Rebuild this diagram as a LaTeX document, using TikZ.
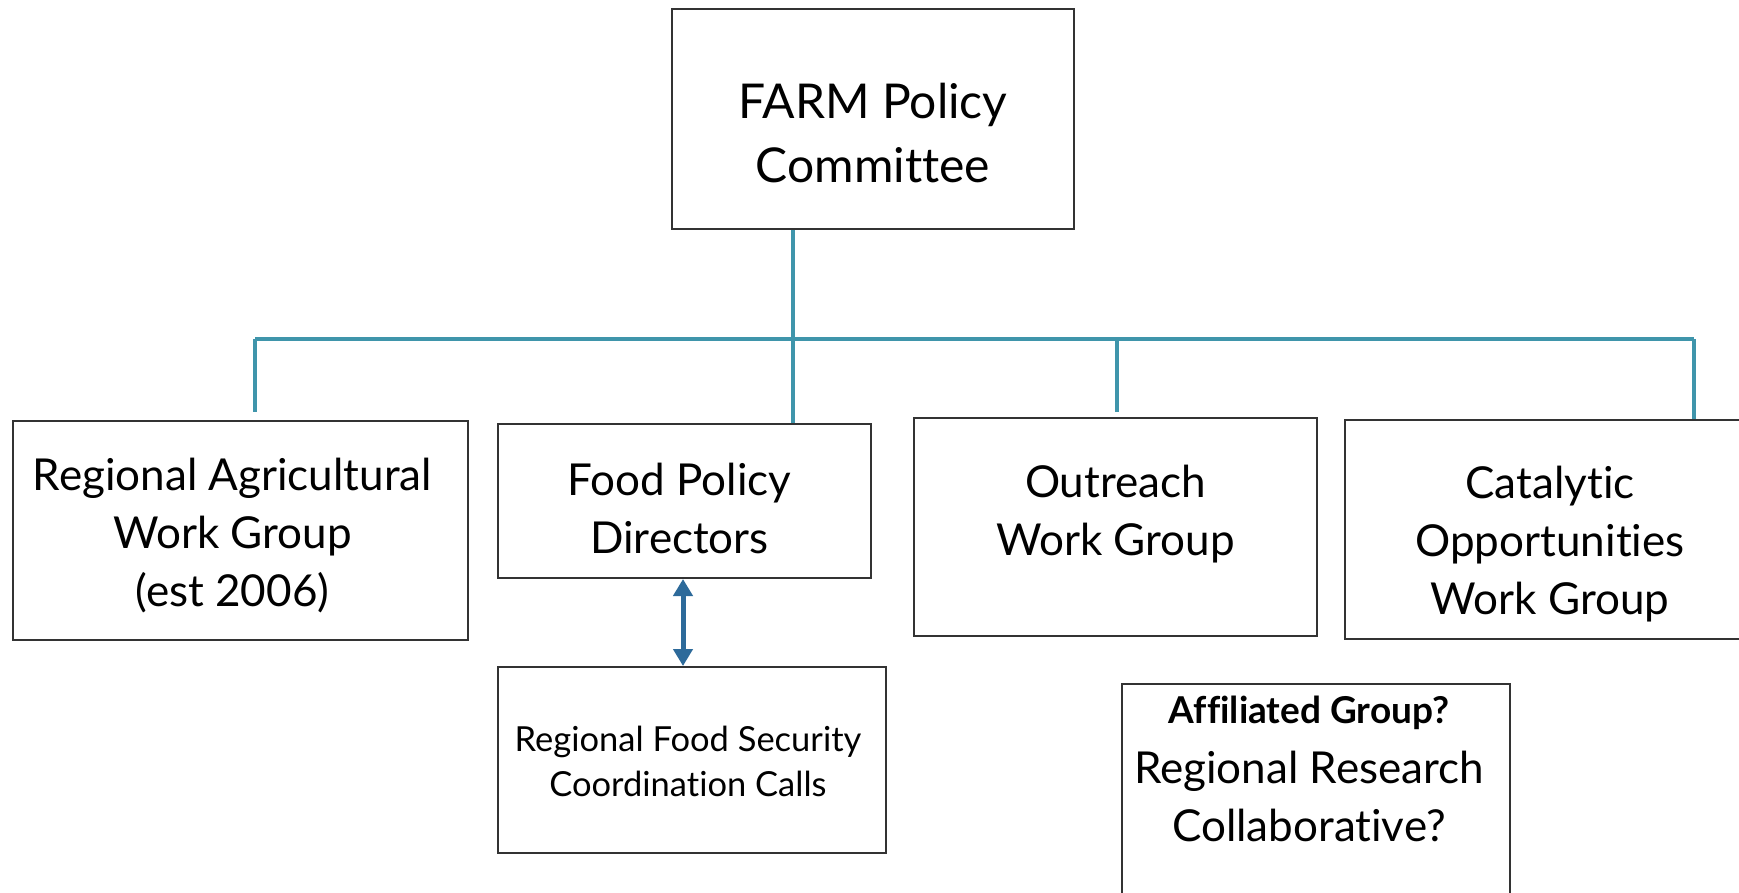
\documentclass[tikz,border=0pt]{standalone}
\usepackage{fontspec}
\setmainfont{Lato}[Ligatures={NoCommon,NoRare,NoContextual}]
\usetikzlibrary{arrows.meta}
\definecolor{teal1}{HTML}{3F95AB}
\definecolor{arrowblue}{HTML}{2D6A9A}
\definecolor{boxline}{HTML}{333333}
\begin{document}
\begin{tikzpicture}[x=1pt,y=-1pt,
  box/.style={draw=boxline,line width=2pt,fill=white,inner sep=0pt,anchor=north west},
  txt/.style={align=center,inner sep=0pt},
  mainfont/.style={font=\fontsize{44}{58}\selectfont},
  conn/.style={draw=teal1,line width=3.5pt},
]
\useasboundingbox (0,0) rectangle (1739,892);
\clip (0,0) rectangle (1739,892);
\fill[white] (0,0) rectangle (1739,892);

% boxes
\node[box,minimum width=402pt,minimum height=220pt] (farm) at (671,8) {};
\node[box,minimum width=455pt,minimum height=219pt] (rawg) at (12,420) {};
\node[box,minimum width=373pt,minimum height=154pt] (fpd) at (497,423) {};
\node[box,minimum width=403pt,minimum height=218pt] (owg) at (913,417) {};
\node[box,minimum width=404pt,minimum height=219pt] (cowg) at (1344,419) {};
\node[box,minimum width=388pt,minimum height=186pt] (rfscc) at (497,666) {};
\node[box,minimum width=388pt,minimum height=280pt] (aff) at (1121,683) {};

% texts
\node[txt,font=\fontsize{48}{64}\selectfont] (farmt) at ([yshift=-14pt]farm.center)
  {FARM Policy\\Committee};
\node[txt,mainfont] (rawgt) at ([xshift=-8pt,yshift=-5pt]rawg.center)
  {Regional Agricultural\\Work Group\\(est 2006)};
\node[txt,mainfont] (fpdt) at ([xshift=-5pt,yshift=-7pt]fpd.center)
  {Food Policy\\Directors};
\node[txt,mainfont] (owgt) at ([yshift=13pt]owg.center)
  {Outreach\\Work Group};
\node[txt,mainfont] (cowgt) at ([xshift=3pt,yshift=-15pt]cowg.center)
  {Catalytic\\Opportunities\\Work Group};
\node[txt,font=\fontsize{34.5}{45}\selectfont] (rfsccT) at ([xshift=-4pt,yshift=-1pt]rfscc.center)
  {Regional Food Security\\Coordination Calls};
\node[txt,anchor=north,mainfont] (afft) at ([xshift=-7pt,yshift=-13pt]aff.north)
  {{\bfseries\fontsize{37}{40}\selectfont Affiliated Group?}\\[2pt]Regional Research\\Collaborative?};

% connectors
\coordinate (bus) at (793,339);
\coordinate (rawgend) at (255,412);
\coordinate (owgend) at (1117,412);
\draw[conn] (farm.south -| bus) -- (fpd.north -| bus);
\draw[conn] (rawgend |- bus) -- (1694,339) coordinate (busR);
\draw[conn] (rawgend |- bus) -- (rawgend);
\draw[conn] (owgend |- bus) -- (owgend);
\draw[conn] (busR) -- (busR |- cowg.north);
\draw[draw=arrowblue,line width=5pt,{Triangle[length=17pt,width=19pt]}-{Triangle[length=17pt,width=19pt]}]
  (fpd.south -| 683,0) -- (rfscc.north -| 683,0);
\end{tikzpicture}
\end{document}
